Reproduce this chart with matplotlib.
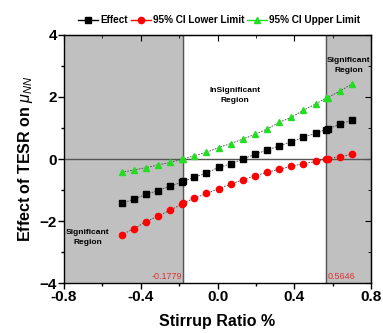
import matplotlib
matplotlib.use("Agg")
import matplotlib.pyplot as plt
from matplotlib.lines import Line2D
from matplotlib.ticker import MultipleLocator

plt.rcParams['font.family'] = ['Liberation Sans', 'DejaVu Sans']
plt.rcParams['mathtext.fontset'] = 'custom'
plt.rcParams['mathtext.it'] = 'Liberation Sans:italic'
plt.rcParams['mathtext.rm'] = 'Liberation Sans'

# Data
stirrup_ratio = [-0.5, -0.437, -0.374, -0.311, -0.247, -0.184, -0.1779, -0.121, -0.058,
                 0.005, 0.068, 0.132, 0.195, 0.258, 0.321, 0.384, 0.447, 0.511,
                 0.5646, 0.574, 0.637, 0.7]
effect = [-1.43, -1.30, -1.14, -1.02, -0.87, -0.75, -0.72, -0.59, -0.45,
          -0.27, -0.16, 0.0, 0.15, 0.29, 0.42, 0.56, 0.70, 0.83,
          0.95, 0.97, 1.12, 1.26]
ci_lower = [-2.45, -2.25, -2.03, -1.84, -1.65, -1.45, -1.41, -1.27, -1.11,
            -0.96, -0.81, -0.67, -0.54, -0.43, -0.33, -0.23, -0.15, -0.08,
            0.0, 0.01, 0.08, 0.15]
ci_upper = [-0.43, -0.355, -0.28, -0.194, -0.11, -0.01, 0.0, 0.107, 0.215,
            0.366, 0.495, 0.645, 0.796, 0.968, 1.18, 1.344, 1.57, 1.774,
            1.96, 1.98, 2.19, 2.42]
lower_bound = -0.1779
upper_bound = 0.5646

fig = plt.figure(figsize=(3.83, 3.33), dpi=100)
ax = fig.add_axes([0.167, 0.150, 0.802, 0.745])

# shaded significant regions
ax.axvspan(-0.8, lower_bound, color='#c0c0c0', zorder=0)
ax.axvspan(upper_bound, 0.8, color='#c0c0c0', zorder=0)
ax.axvline(lower_bound, color='#555555', lw=1.0, zorder=1)
ax.axvline(upper_bound, color='#555555', lw=1.0, zorder=1)
ax.axhline(0, color='#555555', lw=1.0, zorder=1)

ls = (0, (2, 1.5))
green = '#22dd22'
ax.plot(stirrup_ratio, effect, color='#444444', lw=0.6, ls=ls, zorder=2)
ax.plot(stirrup_ratio, ci_lower, color='#444444', lw=0.6, ls=ls, zorder=2)
ax.plot(stirrup_ratio, ci_upper, color='#444444', lw=0.6, ls=ls, zorder=2)
ax.plot(stirrup_ratio, effect, 's', color='black', ms=4, zorder=3)
ax.plot(stirrup_ratio, ci_lower, 'o', color='red', ms=4.5, zorder=3)
ax.plot(stirrup_ratio, ci_upper, '^', color=green, ms=5, zorder=3)

# region labels
ax.text(0.09, 2.06, 'InSignificant\nRegion', ha='center', va='center', fontsize=6,
        fontweight='bold', linespacing=1.6)
ax.text(0.684, 3.03, 'Significant\nRegion', ha='center', va='center', fontsize=6,
        fontweight='bold', linespacing=1.6)
ax.text(-0.677, -2.52, 'Significant\nRegion', ha='center', va='center', fontsize=6,
        fontweight='bold', linespacing=1.6)
ax.text(lower_bound - 0.005, -3.78, '-0.1779', ha='right', va='center', fontsize=6.5, color='#e03030')
ax.text(upper_bound + 0.01, -3.78, '0.5646', ha='left', va='center', fontsize=6.5, color='#e03030')

ax.set_xlim(-0.8, 0.8)
ax.set_ylim(-4, 4)
ax.xaxis.set_major_locator(MultipleLocator(0.4))
ax.xaxis.set_minor_locator(MultipleLocator(0.2))
ax.yaxis.set_major_locator(MultipleLocator(2))
ax.yaxis.set_minor_locator(MultipleLocator(1))
ax.set_xticks([-0.8, -0.4, 0.0, 0.4, 0.8])
ax.set_xticklabels(['-0.8', '-0.4', '0.0', '0.4', '0.8'])
ax.tick_params(which='both', direction='out', top=False, right=False, width=1.0)
ax.tick_params(which='major', length=4, labelsize=11, pad=1)
ax.tick_params(which='minor', length=2.5)
for lab in ax.get_xticklabels() + ax.get_yticklabels():
    lab.set_fontweight('bold')

# inward ticks on the top and right spines
sec_x = ax.secondary_xaxis('top')
sec_x.xaxis.set_major_locator(MultipleLocator(0.4))
sec_x.xaxis.set_minor_locator(MultipleLocator(0.2))
sec_x.tick_params(which='both', direction='in', labeltop=False)
sec_x.tick_params(which='major', length=4)
sec_x.tick_params(which='minor', length=2.5)
sec_y = ax.secondary_yaxis('right')
sec_y.yaxis.set_major_locator(MultipleLocator(2))
sec_y.yaxis.set_minor_locator(MultipleLocator(1))
sec_y.tick_params(which='both', direction='in', labelright=False)
sec_y.tick_params(which='major', length=4)
sec_y.tick_params(which='minor', length=2.5)

for sp in ax.spines.values():
    sp.set_linewidth(1.0)

ax.set_xlabel('Stirrup Ratio %', fontsize=11.5, fontweight='bold', labelpad=7)
ax.set_ylabel(r'Effect of TESR on $\mu_{NN}$', fontsize=11.5, fontweight='bold', labelpad=3)

handles = [
    Line2D([], [], color='black', marker='s', ms=4, lw=1.0, label='Effect'),
    Line2D([], [], color='red', marker='o', ms=4.5, lw=1.0, label='95% CI Lower Limit'),
    Line2D([], [], color=green, marker='^', ms=5, lw=1.0, label='95% CI Upper Limit'),
]
ax.legend(handles=handles, loc='lower center', bbox_to_anchor=(0.505, 1.01), ncol=3, frameon=False,
          prop={'weight': 'bold', 'size': 7.2}, handlelength=2.0, handletextpad=0.2,
          columnspacing=0.3, borderaxespad=0.3)

fig.savefig('out.png', dpi=100)
